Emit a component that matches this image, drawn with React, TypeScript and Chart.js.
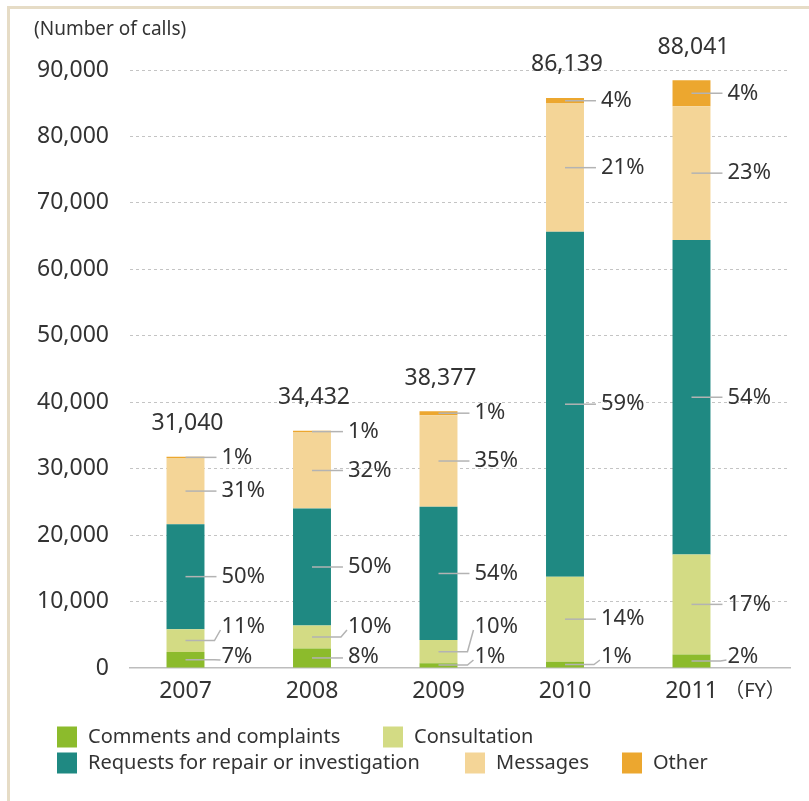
import React, { useEffect, useRef } from 'react';
import { Chart, registerables } from 'chart.js';

Chart.register(...registerables);

// ---- data ----
const categories = ['2007', '2008', '2009', '2010', '2011'];
const seriesNames = [
  'Comments and complaints',
  'Consultation',
  'Requests for repair or investigation',
  'Messages',
  'Other',
];
const comments = [2400, 2950, 700, 950, 2050];
const consultation = [3450, 3450, 3500, 12800, 15050];
const requests = [15800, 17600, 20050, 51900, 47300];
const messages = [9950, 11450, 13800, 19300, 20150];
const other = [200, 250, 600, 850, 3900];

const totals = ['31,040', '34,432', '38,377', '86,139', '88,041'];
const pctComments = ['7%', '8%', '1%', '1%', '2%'];
const pctConsultation = ['11%', '10%', '10%', '14%', '17%'];
const pctRequests = ['50%', '50%', '54%', '59%', '54%'];
const pctMessages = ['31%', '32%', '35%', '21%', '23%'];
const pctOther = ['1%', '1%', '1%', '4%', '4%'];

const yMin = 0;
const yMax = 90000;
const yStep = 10000;
const yTitle = '(Number of calls)';
const xUnit = '（FY）';

// ---- styles ----
const COLORS = ['#8cbb2c', '#d3db84', '#1f8982', '#f4d597', '#eca72f'];
const FONT = '"Noto Sans", "Noto Sans CJK JP", sans-serif';
const TEXT = '#333333';

const seriesValues = [comments, consultation, requests, messages, other];
const seriesPcts = [pctComments, pctConsultation, pctRequests, pctMessages, pctOther];

// legend slot layout (row y, box x)
const legendSlots = [
  { x: 57, y: 737 },
  { x: 383, y: 737 },
  { x: 57, y: 763 },
  { x: 465, y: 763 },
  { x: 622, y: 763 },
];

const decor = {
  id: 'decor',
  beforeDraw(chart: any) {
    const ctx = chart.ctx;
    ctx.save();
    ctx.fillStyle = '#ffffff';
    ctx.fillRect(0, 0, chart.width, chart.height);
    ctx.fillStyle = '#e6dcc6';
    ctx.fillRect(7, 6, chart.width, 3);
    ctx.fillRect(7, 6, 3, chart.height);
    ctx.restore();
  },
  afterDatasetsDraw(chart: any) {
    const ctx = chart.ctx;
    const zeroY = chart.scales.y.getPixelForValue(0);
    ctx.save();
    ctx.textBaseline = 'middle';

    categories.forEach((_, i) => {
      let prevLabelY = zeroY;
      let topY = zeroY;
      let cx = 0;
      seriesPcts.forEach((arr, d) => {
        const bar = chart.getDatasetMeta(d).data[i];
        const { x, y, base, width } = bar.getProps(['x', 'y', 'base', 'width'], true);
        cx = x;
        topY = Math.min(topY, y);
        const mid = (y + base) / 2;
        let ly = mid;
        if (d === 0) ly = Math.min(mid, zeroY - 11);
        else if (d === 1) ly = Math.min(mid, prevLabelY - 30);
        prevLabelY = ly;
        const lineY = Math.min(mid, zeroY - 3);
        const right = x + width / 2;

        ctx.strokeStyle = '#b3b3b3';
        ctx.lineWidth = 1.5;
        ctx.beginPath();
        ctx.moveTo(x, lineY);
        if (Math.abs(ly - lineY) < 2) {
          ctx.lineTo(right + 12, lineY);
        } else {
          ctx.lineTo(right + 10, lineY);
          ctx.lineTo(right + 16, ly + 3);
        }
        ctx.stroke();

        ctx.fillStyle = TEXT;
        ctx.font = `22px ${FONT}`;
        ctx.textAlign = 'left';
        ctx.fillText(arr[i], right + 17, ly);
      });
      ctx.fillStyle = TEXT;
      ctx.font = `23px ${FONT}`;
      ctx.textAlign = 'center';
      ctx.fillText(totals[i], cx + 2, topY - 33);
    });

    // axis title and unit
    ctx.fillStyle = TEXT;
    ctx.font = `19px ${FONT}`;
    ctx.textAlign = 'left';
    ctx.fillText(yTitle, 34, 30);
    ctx.font = `20px ${FONT}`;
    ctx.textAlign = 'center';
    ctx.fillText(xUnit, 755, 691);

    // legend
    ctx.font = `20px ${FONT}`;
    ctx.textAlign = 'left';
    legendSlots.forEach((s, k) => {
      ctx.fillStyle = COLORS[k];
      ctx.fillRect(s.x, s.y - 10.5, 20, 21);
      ctx.fillStyle = TEXT;
      ctx.fillText(seriesNames[k], s.x + 31, s.y);
    });
    ctx.restore();
  },
};

export default function App() {
  const ref = useRef<HTMLCanvasElement>(null);
  useEffect(() => {
    const chart = new Chart(ref.current as HTMLCanvasElement, {
      type: 'bar',
      data: {
        datasets: seriesValues.map((vals, d) => ({
          label: seriesNames[d],
          data: vals.map((v, i) => ({ x: i, y: v })),
          backgroundColor: COLORS[d],
          borderWidth: 0,
          barPercentage: 0.3,
          categoryPercentage: 1,
        })),
      },
      options: {
        animation: false,
        responsive: false,
        layout: { padding: { top: 70, right: 19, left: 0, bottom: 0 } },
        plugins: { legend: { display: false }, tooltip: { enabled: false } },
        scales: {
          x: {
            type: 'linear',
            stacked: true,
            offset: false,
            min: -0.4387,
            max: 4.7787,
            afterBuildTicks: (s: any) => {
              s.ticks = categories.map((_, i) => ({ value: i }));
            },
            afterFit: (s: any) => {
              s.height = 133;
            },
            grid: { display: false, drawTicks: false },
            border: { display: true, color: '#bdbdbd', width: 1.5 },
            ticks: {
              padding: 10,
              autoSkip: false,
              maxRotation: 0,
              color: TEXT,
              font: { family: FONT, size: 23 },
              callback: (v: any) => categories[v] ?? '',
            },
          },
          y: {
            stacked: true,
            min: yMin,
            max: yMax,
            afterFit: (s: any) => {
              s.width = 130;
            },
            grid: {
              drawTicks: false,
              lineWidth: 1,
              color: (c: any) => (c.tick && c.tick.value === 0 ? 'rgba(0,0,0,0)' : '#c4c4c4'),
              borderDash: [3, 3],
            } as any,
            border: { display: false, dash: [3, 3] },
            ticks: {
              stepSize: yStep,
              padding: 21,
              color: TEXT,
              font: { family: FONT, size: 23 },
              callback: (v: any) => Number(v).toLocaleString('en-US'),
            },
          },
        },
      } as any,
      plugins: [decor],
    });
    return () => chart.destroy();
  }, []);
  return (
    <div style={{ position: 'absolute', left: 0, top: 0, width: 809, height: 801 }}>
      <canvas ref={ref} width={809} height={801} style={{ display: 'block', width: 809, height: 801 }} />
    </div>
  );
}
